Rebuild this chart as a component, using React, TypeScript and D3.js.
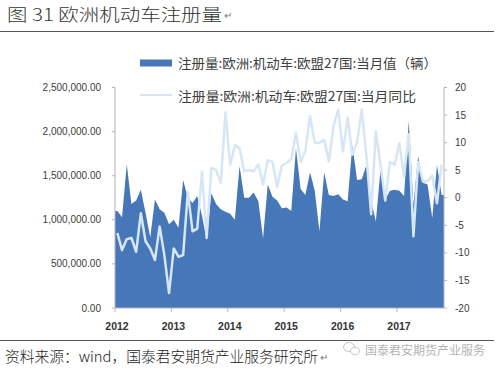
import React from 'react';
import * as d3 from 'd3';

// 2012-01 .. 2017-10, monthly
const years = ['2012', '2013', '2014', '2015', '2016', '2017'];

// 注册量:欧洲:机动车:欧盟27国:当月值（辆）
const monthlyRegs = [
  1100000, 1030000, 1630000, 1180000, 1220000, 1340000, 1080000, 800000, 1230000, 1120000, 1080000, 950000,
  1000000, 910000, 1450000, 1250000, 1190000, 1270000, 1050000, 770000, 1300000, 1180000, 1120000, 1090000,
  1070000, 1000000, 1610000, 1250000, 1250000, 1310000, 1210000, 790000, 1400000, 1260000, 1220000, 1130000,
  1140000, 1100000, 1810000, 1350000, 1280000, 1540000, 1330000, 870000, 1540000, 1280000, 1270000, 1290000,
  1230000, 1210000, 1850000, 1450000, 1460000, 1620000, 1220000, 980000, 1570000, 1230000, 1330000, 1340000,
  1330000, 1270000, 2120000, 1170000, 1720000, 1420000, 1400000, 1020000, 1620000, 1280000,
];

// 注册量:欧洲:机动车:欧盟27国:当月同比 (%)
const yoyChange = [
  -6.4, -9.5, -7.5, -7.3, -9.8, -2.8, -7.9, -9.2, -11.3, -5.2, -10.4, -17.3,
  -9.2, -10.7, -10.4, 1.1, -6.1, -5.6, 4.7, -7.3, 5.4, 5.0, 2.7, 15.5,
  6.0, 9.5, 9.0, 4.8, 5.0, 4.8, 6.0, 2.4, 6.8, 6.5, 2.0, 5.8,
  6.3, 7.0, 11.8, 6.5, 8.5, 14.8, 10.0, 10.0, 10.5, 6.6, 13.0, 16.0,
  8.4, 14.5, 7.8, 10.0, 16.0, 7.5, -3.0, 12.0, 6.0, -0.5, 6.5, 6.0,
  9.9, 3.9, 11.5, -7.0, 6.5, 3.0, 3.0, 4.0, -1.0, 6.0,
];

const leftTicks = [0, 500000, 1000000, 1500000, 2000000, 2500000];
const rightTicks = [-20, -15, -10, -5, 0, 5, 10, 15, 20];

const W = 500;
const H = 371;
const plot = { left: 115, right: 444, top: 87.5, bottom: 308 };

const AREA_BLUE = '#4677b8';
const LINE_BLUE = '#d6e6f4';
const AXIS_GREY = '#b5b5b5';
const CJK = '"Noto Sans CJK SC", sans-serif';
const NUM = '"Liberation Sans", Arial, sans-serif';

export default function App() {
  const n = monthlyRegs.length;
  const x = d3.scaleLinear().domain([-0.5, n - 0.5]).range([plot.left, plot.right]);
  const yL = d3.scaleLinear().domain([0, 2500000]).range([plot.bottom, plot.top]);
  const yR = d3.scaleLinear().domain([-20, 20]).range([plot.bottom, plot.top]);

  // pad the area out to both plot edges with the first / last value
  const areaPts: [number, number][] = [
    [-0.5, monthlyRegs[0]],
    ...monthlyRegs.map((v, i) => [i, v] as [number, number]),
    [n - 0.5, monthlyRegs[n - 1]],
  ];
  const area = d3
    .area<[number, number]>()
    .x(d => x(d[0]))
    .y0(yL(0))
    .y1(d => yL(d[1]));

  const line = d3
    .line<number>()
    .x((d, i) => x(i))
    .y(d => yR(d));

  const fmtL = d3.format(',.2f');

  return (
    <svg
      width={W}
      height={H}
      style={{ position: 'absolute', left: 0, top: 0, display: 'block', background: '#fff' }}
    >
      {/* title */}
      <text x={7} y={13} dominantBaseline="central" fontFamily={CJK} fontSize={17} fontWeight={300}
        fill="#333" textLength={215} lengthAdjust="spacingAndGlyphs">
        图 31 欧洲机动车注册量
      </text>
      <text x={224} y={15} dominantBaseline="central" fontFamily={NUM} fontSize={10} fill="#777">↵</text>
      <line x1={0} x2={494} y1={31.5} y2={31.5} stroke="#555" strokeWidth={1} />

      {/* legend */}
      <rect x={140} y={59.5} width={32} height={7} fill={AREA_BLUE} />
      <text x={178} y={62.5} dominantBaseline="central" fontFamily={CJK} fontSize={13}
        fill="#404040" textLength={259} lengthAdjust="spacingAndGlyphs">
        注册量:欧洲:机动车:欧盟27国:当月值（辆）
      </text>
      <line x1={140} x2={172} y1={95} y2={95} stroke={LINE_BLUE} strokeWidth={2} />
      <text x={178} y={95} dominantBaseline="central" fontFamily={CJK} fontSize={13}
        fill="#404040" textLength={238} lengthAdjust="spacingAndGlyphs">
        注册量:欧洲:机动车:欧盟27国:当月同比
      </text>

      {/* series */}
      <path d={area(areaPts) ?? ''} fill={AREA_BLUE} />
      <path d={line(yoyChange) ?? ''} fill="none" stroke={LINE_BLUE} strokeWidth={2.5}
        strokeLinejoin="round" />

      {/* left axis */}
      <line x1={plot.left} x2={plot.left} y1={plot.top} y2={plot.bottom} stroke={AXIS_GREY} />
      {leftTicks.map(t => (
        <g key={t}>
          <line x1={plot.left - 3} x2={plot.left} y1={yL(t)} y2={yL(t)} stroke={AXIS_GREY} />
          <text x={101} y={yL(t)} textAnchor="end" dominantBaseline="central"
            fontFamily={NUM} fontSize={10} fill="#404040">
            {fmtL(t)}
          </text>
        </g>
      ))}

      {/* right axis */}
      <line x1={plot.right} x2={plot.right} y1={plot.top} y2={plot.bottom} stroke={AXIS_GREY} />
      {rightTicks.map(t => (
        <g key={t}>
          <line x1={plot.right} x2={plot.right + 3} y1={yR(t)} y2={yR(t)} stroke={AXIS_GREY} />
          <text x={455} y={yR(t)} dominantBaseline="central"
            fontFamily={NUM} fontSize={10} fill="#404040">
            {t}
          </text>
        </g>
      ))}

      {/* x axis */}
      <line x1={plot.left} x2={plot.right} y1={plot.bottom} y2={plot.bottom} stroke={AXIS_GREY} />
      {years.map((yr, j) => {
        const tx = x(j * 12 - 0.5);
        return (
          <g key={yr}>
            <line x1={tx} x2={tx} y1={plot.bottom} y2={plot.bottom + 4} stroke={AXIS_GREY} />
            <text x={tx + 2} y={326} textAnchor="middle" dominantBaseline="central"
              fontFamily={NUM} fontSize={10.5} fontWeight="bold" fill="#333">
              {yr}
            </text>
          </g>
        );
      })}

      {/* footer */}
      <line x1={0} x2={494} y1={340.5} y2={340.5} stroke="#555" strokeWidth={1} />
      <text x={5} y={355} dominantBaseline="central" fontFamily={CJK} fontSize={14.5} fontWeight={300}
        fill="#222" textLength={313} lengthAdjust="spacingAndGlyphs">
        资料来源：wind，国泰君安期货产业服务研究所
      </text>
      <text x={320} y={357} dominantBaseline="central" fontFamily={NUM} fontSize={10} fill="#777">↵</text>

      {/* watermark */}
      <rect x={340} y={341} width={150} height={16} fill="#fff" />
      <ellipse cx={349} cy={347} rx={5.5} ry={4.5} fill="none" stroke="#c4c4c4" strokeWidth={1} />
      <ellipse cx={355} cy={351} rx={4.5} ry={3.8} fill="#fff" stroke="#c4c4c4" strokeWidth={1} />
      <text x={365} y={349} dominantBaseline="central" fontFamily={CJK} fontSize={12}
        fill="#b4b4b4" textLength={120} lengthAdjust="spacingAndGlyphs">
        国泰君安期货产业服务
      </text>
    </svg>
  );
}
